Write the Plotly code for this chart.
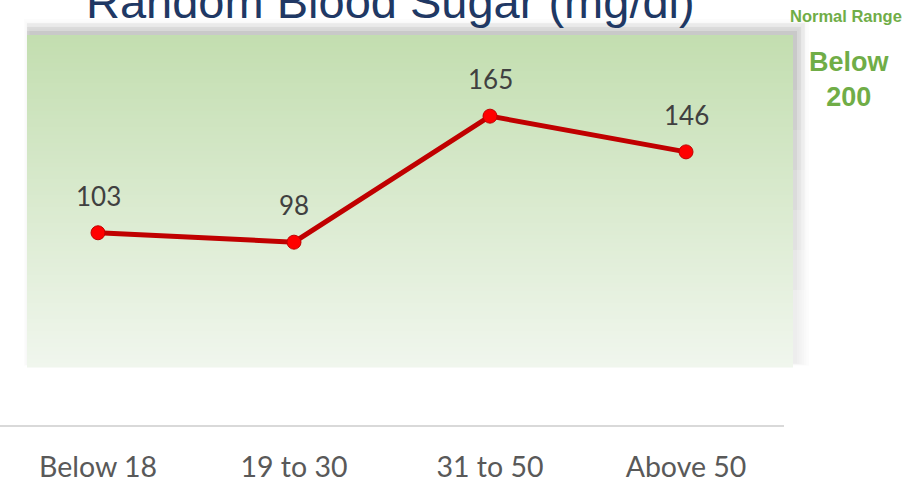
import plotly.graph_objects as go

categories = ["Below 18", "19 to 30", "31 to 50", "Above 50"]
values = [103, 98, 165, 146]
title_text = "Random Blood Sugar (mg/dl)"
side_title = "Normal Range"
side_value = "Below<br>200"

W, H = 907, 481
ML, MR, MT, MB = 0, 123, 49, 56
PW = W - ML - MR
PH = H - MT - MB


def px_x(p):
    return (p - ML) / PW


def px_y(p):
    return (H - MB - p) / PH


fig = go.Figure()

fig.add_trace(go.Scatter(
    x=categories, y=values, mode="lines+markers",
    line=dict(color="#c00000", width=5),
    marker=dict(size=14, color="#ff0000", line=dict(color="#c00000", width=1)),
    hoverinfo="skip", showlegend=False, cliponaxis=False,
))

shapes = []
# soft shadow (offset up-right), fading downward
for i in range(6):
    g = 2 + i * 2.4
    shapes.append(dict(type="rect", xref="paper", yref="paper", layer="below",
                       x0=px_x(27 + 4 - g * 0.5), x1=px_x(793 + 2 + g),
                       y0=px_y(367 - 4 + g * 0.2), y1=px_y(35 - 2 - g),
                       line=dict(width=0), fillcolor="rgba(0,0,0,0.012)"))
for yend in [90, 130, 170, 210, 250, 290]:
    for i in range(3):
        g = 2 + i * 4
        shapes.append(dict(type="rect", xref="paper", yref="paper", layer="below",
                           x0=px_x(27), x1=px_x(793 + 2 + g),
                           y0=px_y(yend), y1=px_y(35 - 2 - g),
                           line=dict(width=0), fillcolor="rgba(0,0,0,0.006)"))
# vertical gradient
top = (195, 222, 176)
bot = (240, 246, 237)
x0, x1, yt, yb = 27, 793, 35, 367
n = 83
for i in range(n):
    t = i / (n - 1)
    c = tuple(round(top[k] + (bot[k] - top[k]) * t) for k in range(3))
    ya = yt + (yb - yt) * i / n
    yb2 = yt + (yb - yt) * (i + 1) / n
    shapes.append(dict(type="rect", xref="paper", yref="paper", layer="below",
                       x0=px_x(x0), x1=px_x(x1), y0=px_y(yb2 + 0.5), y1=px_y(ya),
                       line=dict(width=0), fillcolor="rgb(%d,%d,%d)" % c))

annotations = []
for c, v in zip(categories, values):
    annotations.append(dict(x=c, y=v, xref="x", yref="y", text=str(v), showarrow=False,
                            yshift=37, font=dict(family="Lato", size=26, color="#404040")))

annotations.append(dict(x=px_x(390), y=px_y(1), xref="paper", yref="paper", text=title_text,
                        showarrow=False, xanchor="center", yanchor="middle",
                        font=dict(family="Liberation Sans, Arial", size=47, color="#203864")))
annotations.append(dict(x=px_x(846), y=px_y(16), xref="paper", yref="paper", text=side_title,
                        showarrow=False, xanchor="center", yanchor="middle",
                        font=dict(family="Liberation Sans, Arial", size=16.5, color="#70ad47", weight="bold")))
annotations.append(dict(x=px_x(849), y=px_y(79), xref="paper", yref="paper", text=side_value,
                        showarrow=False, xanchor="center", yanchor="middle",
                        font=dict(family="Liberation Sans, Arial", size=27, color="#70ad47", weight="bold")))

fig.update_layout(
    width=W, height=H,
    margin=dict(l=ML, r=MR, t=MT, b=MB, autoexpand=False),
    paper_bgcolor="white", plot_bgcolor="rgba(0,0,0,0)",
    shapes=shapes, annotations=annotations,
    xaxis=dict(type="category", range=[-0.5, 3.5], showline=True, linecolor="#d9d9d9",
               linewidth=1.5, showgrid=False, zeroline=False, ticks="", automargin=False,
               tickfont=dict(family="Lato", size=28.5, color="#595959"),
               ticklabelstandoff=16),
    yaxis=dict(range=[0.8, 200.7], visible=False, showgrid=False, zeroline=False, automargin=False),
)

fig.write_html("out.html", config={"displayModeBar": False},
               post_script="document.body.style.margin='0';")
